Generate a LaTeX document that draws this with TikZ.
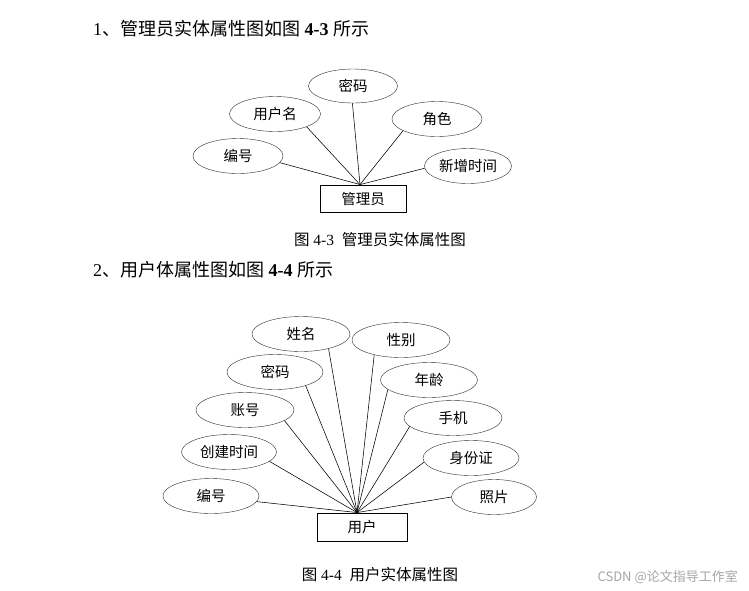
\documentclass[tikz,border=0pt]{standalone}
\usepackage{fontspec}
\setmainfont{Liberation Serif}
\newfontfamily\cjk{Noto Sans CJK SC}
\usetikzlibrary{shapes.geometric}
\definecolor{linegray}{RGB}{45,45,45}
\tikzset{attr/.style={draw=linegray,ellipse,minimum width=96pt,minimum height=35pt,inner sep=0pt,font=\cjk\fontsize{14.5}{16}\selectfont},
 entity/.style={draw=black,line width=0.9pt,minimum width=86pt,minimum height=27pt,inner sep=0pt,font=\cjk\fontsize{14.5}{16}\selectfont},
 link/.style={draw=black,line width=0.55pt},
 head/.style={anchor=west,inner sep=0pt,font=\fontsize{18}{21}\selectfont},
 figcap/.style={inner sep=0pt,font=\fontsize{15.5}{18}\selectfont}}

\begin{document}
\begin{tikzpicture}[x=1pt,y=-1pt]
\useasboundingbox[fill=white] (0,0) rectangle (749,590);
% figure 4-3
\node[head] (h1) at (93,29) {1{\cjk 、管理员实体属性图如图} \textbf{4-3} {\cjk 所示}};
\node[entity] (gly) at (363,198.5) {管理员};
\node[attr,minimum width=90pt] (bh1) at (238,156) {编号};
\node[attr,minimum width=91pt] (yhm) at (275,114) {用户名};
\node[attr,minimum width=89pt,minimum height=34pt] (mm1) at (353,86) {密码};
\node[attr,minimum width=90pt] (js) at (437,119) {角色};
\node[attr,minimum width=87pt] (xzsj) at (468,166) {新增时间};
\coordinate (g1) at ([xshift=-3pt]gly.north);
\foreach \n/\a in {bh1/-9,yhm/-22,mm1/-92,js/199,xzsj/183}
  \draw[link] (\n.\a) -- (g1);
\node[figcap] (c1) at (380,240) {{\cjk 图} 4-3\ \ {\cjk 管理员实体属性图}};
% figure 4-4
\node[head] (h2) at (93,270) {2{\cjk 、用户体属性图如图} \textbf{4-4} {\cjk 所示}};
\node[entity,minimum width=90pt,minimum height=28pt] (yh) at (362,527) {用户};
\node[attr] (bh2) at (211,496) {编号};
\node[attr,minimum width=95pt] (cjsj) at (229,452) {创建时间};
\node[attr,minimum width=98pt] (zh) at (245,410) {账号};
\node[attr] (mm2) at (275,372) {密码};
\node[attr,minimum width=98pt] (xm) at (301,334) {姓名};
\node[attr,minimum width=98pt] (xb) at (401,340) {性别};
\node[attr,minimum width=97pt] (nl) at (429,380) {年龄};
\node[attr,minimum width=98pt] (sj) at (453,418) {手机};
\node[attr] (sfz) at (471,458) {身份证};
\node[attr,minimum width=85pt] (zp) at (494,497) {照片};
\coordinate (g2) at ([xshift=-5pt]yh.north);
\foreach \n/\a in {bh2/-7,cjsj/-13,zh/-15,mm2/-24,xm/-28,xb/209,nl/193,sj/191,sfz/185,zp/180}
  \draw[link] (\n.\a) -- (g2);
\node[figcap] (c2) at (380,575) {{\cjk 图} 4-4\ \ {\cjk 用户实体属性图}};
\node[anchor=east,inner sep=0pt,text=black!35,font=\cjk\fontsize{13}{15}\selectfont] (wm) at (738,577) {CSDN @论文指导工作室};
\end{tikzpicture}
\end{document}
